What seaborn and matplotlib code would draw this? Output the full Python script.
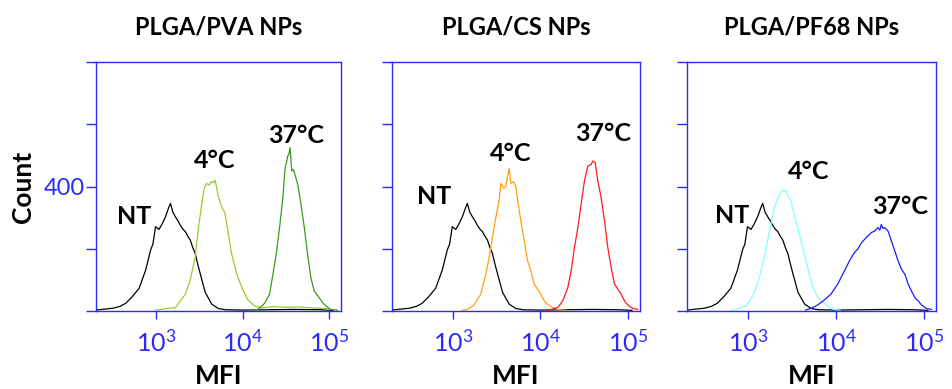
import numpy as np
import pandas as pd
import matplotlib
matplotlib.use("Agg")
import matplotlib.pyplot as plt
from matplotlib.ticker import LogLocator, FixedLocator, NullFormatter
import seaborn as sns

sns.set_theme(style="white")
plt.rcParams['font.family'] = ['Lato', 'DejaVu Sans']
plt.rcParams['mathtext.fontset'] = 'custom'
plt.rcParams['mathtext.rm'] = 'Lato'
plt.rcParams['mathtext.it'] = 'Lato:italic'
plt.rcParams['mathtext.bf'] = 'Lato:bold'

# ---------------- data (log10 MFI, counts) ----------------
titles = ["PLGA/PVA NPs", "PLGA/CS NPs", "PLGA/PF68 NPs"]
series_labels = ["NT", "4°C", "37°C"]

nt_log = [2.30, 2.40, 2.50, 2.58, 2.646, 2.72, 2.80, 2.876, 2.933, 2.96, 2.99, 3.03, 3.067,
          3.106, 3.14, 3.163, 3.19, 3.22, 3.25, 3.278, 3.31, 3.336, 3.365, 3.393, 3.42, 3.45,
          3.48, 3.508, 3.566, 3.642, 3.718, 3.80, 4.0, 4.3, 4.6, 4.9, 5.05]
nt_cnt = [3, 6, 9, 15, 25, 46, 73, 132, 196, 215, 271, 262, 280,
          303, 330, 346, 318, 303, 290, 275, 262, 255, 240, 228, 205, 185,
          150, 120, 60, 22, 8, 4, 3, 4, 5, 4, 2]

pva4_log = [2.99, 3.22, 3.336, 3.393, 3.45, 3.489, 3.527, 3.555, 3.584, 3.61, 3.642, 3.66, 3.68,
            3.70, 3.718, 3.757, 3.795, 3.833, 3.871, 3.929, 3.986, 4.063, 4.14, 4.216, 4.35,
            4.5, 4.65, 4.8, 4.95, 5.05]
pva4_cnt = [3, 11, 54, 100, 174, 271, 346, 395, 410, 405, 416, 412, 421,
            395, 367, 335, 314, 250, 185, 121, 78, 35, 16, 10, 14,
            12, 13, 10, 8, 4]

pva37_log = [4.05, 4.178, 4.255, 4.312, 4.351, 4.389, 4.428, 4.466, 4.492, 4.51, 4.523, 4.537,
             4.55, 4.569, 4.585, 4.60, 4.638, 4.676, 4.715, 4.753, 4.791, 4.83, 4.887, 4.945,
             5.02, 5.1]
pva37_cnt = [3, 5, 25, 54, 118, 182, 268, 364, 460, 480, 498, 505,
             525, 450, 455, 445, 407, 343, 268, 182, 107, 64, 43, 21,
             5, 3]

cs4_log = [3.10, 3.163, 3.239, 3.316, 3.374, 3.412, 3.45, 3.489, 3.527, 3.546, 3.577, 3.603,
           3.623, 3.642, 3.661, 3.692, 3.718, 3.738, 3.776, 3.814, 3.853, 3.891, 3.929, 3.968,
           4.006, 4.044, 4.083, 4.14, 4.198, 4.3]
cs4_cnt = [2, 5, 19, 54, 118, 171, 236, 300, 357, 410, 394, 399,
           432, 458, 410, 416, 399, 357, 289, 225, 161, 128, 86, 70,
           54, 32, 21, 11, 5, 2]

cs37_log = [4.05, 4.121, 4.198, 4.255, 4.313, 4.351, 4.389, 4.428, 4.466, 4.504, 4.543, 4.58,
            4.60, 4.627, 4.657, 4.695, 4.734, 4.772, 4.81, 4.849, 4.887, 4.925, 4.963, 5.002,
            5.06, 5.117]
cs37_cnt = [2, 5, 11, 32, 75, 128, 203, 268, 343, 418, 466, 471,
            482, 477, 418, 364, 289, 203, 139, 86, 70, 54, 32, 19,
            8, 5]

pf4_log = [2.80, 2.869, 2.984, 3.06, 3.117, 3.175, 3.214, 3.252, 3.29, 3.329, 3.367, 3.385,
           3.405, 3.425, 3.444, 3.482, 3.52, 3.559, 3.597, 3.635, 3.674, 3.712, 3.75, 3.789,
           3.827, 3.865, 3.922, 3.98, 4.05]
pf4_cnt = [2, 5, 19, 54, 100, 164, 218, 271, 325, 357, 378, 388,
           384, 390, 373, 357, 314, 271, 229, 186, 143, 100, 67, 46,
           35, 25, 11, 5, 2]

pf37_log = [3.65, 3.711, 3.788, 3.865, 3.941, 4.018, 4.076, 4.114, 4.152, 4.21, 4.25, 4.287,
            4.344, 4.402, 4.44, 4.478, 4.50, 4.516, 4.535, 4.555, 4.593, 4.631, 4.67, 4.708,
            4.746, 4.785, 4.823, 4.861, 4.9, 4.938, 4.976, 5.033, 5.091]
pf37_cnt = [3, 8, 19, 35, 54, 86, 118, 139, 161, 188, 200, 218,
            236, 252, 257, 268, 260, 278, 265, 268, 257, 225, 193, 161,
            134, 118, 86, 64, 43, 32, 19, 8, 5]

panels = [
    [(nt_log, nt_cnt), (pva4_log, pva4_cnt), (pva37_log, pva37_cnt)],
    [(nt_log, nt_cnt), (cs4_log, cs4_cnt), (cs37_log, cs37_cnt)],
    [(nt_log, nt_cnt), (pf4_log, pf4_cnt), (pf37_log, pf37_cnt)],
]
colors = [
    ["#000000", "#99cc33", "#3a9a1a"],
    ["#000000", "#ffa010", "#ff1a1a"],
    ["#000000", "#80ffff", "#1a1aff"],
]
# label anchor positions (log10 MFI, count)
label_log = [[2.74, 3.68, 4.615], [2.78, 3.66, 4.715], [2.81, 3.69, 4.726]]
label_cnt = [[303, 485, 565], [367, 507, 571], [308, 448, 335]]

# ---------------- figure ----------------
W, H = 952, 389
fig = plt.figure(figsize=(W / 100, H / 100), dpi=100)
boxes = [(96, 341), (392, 640), (687, 936)]
top_px, bot_px = 62, 311
axis_blue = "#2a2aff"

for i, (l, r) in enumerate(boxes):
    ax = fig.add_axes([l / W, 1 - bot_px / H, (r - l) / W, (bot_px - top_px) / H])
    for (lx, cnt), c in zip(panels[i], colors[i]):
        df = pd.DataFrame({"MFI": 10 ** np.asarray(lx), "Count": cnt})
        sns.lineplot(data=df, x="MFI", y="Count", ax=ax, color=c, lw=0.9,
                     estimator=None, sort=False)
    ax.set_xscale("log")
    xl = (10 ** 2.30, 10 ** 5.14)
    ax.set_xlim(*xl)
    ax.set_ylim(0, 800)
    ax.xaxis.set_major_locator(FixedLocator([1e3, 1e4, 1e5]))
    ax.set_xticklabels([r"$\mathregular{10^{3}}$", r"$\mathregular{10^{4}}$",
                        r"$\mathregular{10^{5}}$"])
    ax.xaxis.set_minor_locator(LogLocator(base=10, subs=np.arange(2, 10), numticks=20))
    ax.xaxis.set_minor_formatter(NullFormatter())
    ax.yaxis.set_major_locator(FixedLocator([0, 200, 400, 600, 800]))
    if i == 0:
        ax.set_yticklabels(["", "", "400", "", ""])
        ax.set_ylabel("Count", fontsize=19, fontweight="bold", color="black", labelpad=6)
    else:
        ax.set_yticklabels([])
        ax.set_ylabel("")
    ax.set_xlabel("MFI", fontsize=19, fontweight="bold", color="black", labelpad=6)
    for s in ax.spines.values():
        s.set_color(axis_blue)
        s.set_linewidth(1.0)
    ax.tick_params(axis="both", which="both", direction="out", color=axis_blue,
                   labelcolor=axis_blue, width=1.0)
    ax.tick_params(axis="x", which="both", length=6, labelsize=18, pad=7)
    ax.tick_params(axis="y", which="major", length=7, labelsize=17, pad=1)
    ax.tick_params(bottom=True, left=True, top=False, right=False)
    ax.grid(False)
    ax.set_title(titles[i], fontsize=17, fontweight="bold", color="black", pad=20)
    for lab, lx, ly in zip(series_labels, label_log[i], label_cnt[i]):
        ax.text(10 ** lx, ly, lab, ha="center", va="center", fontsize=18,
                fontweight="bold", color="black")

fig.savefig("out.png", dpi=100, facecolor="white")
